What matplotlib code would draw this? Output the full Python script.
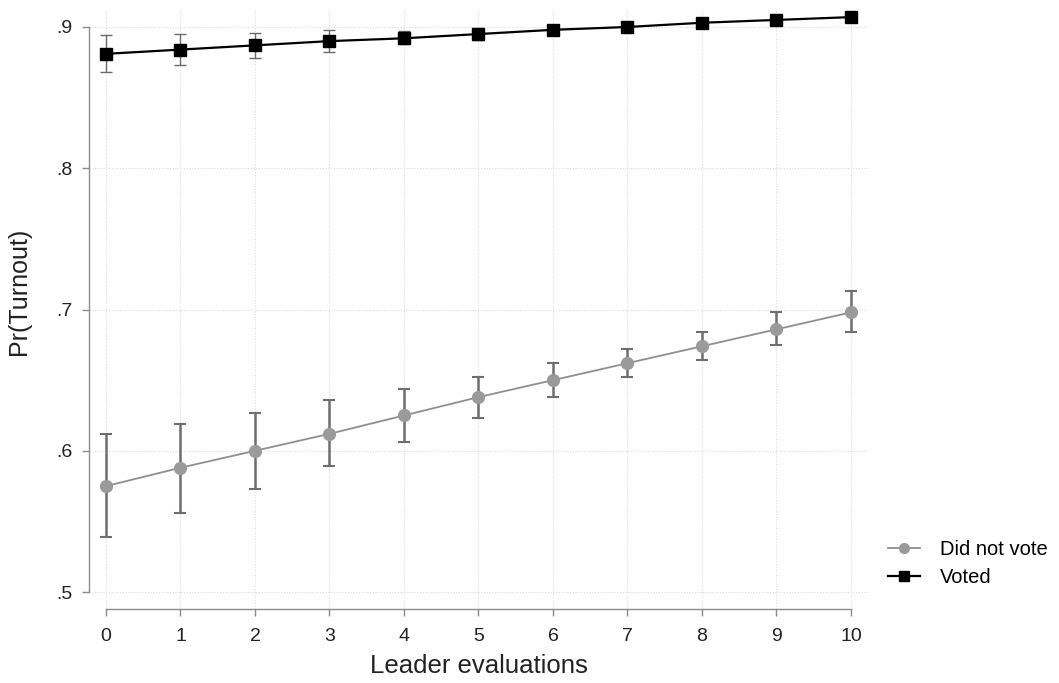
import matplotlib
matplotlib.use("Agg")
import matplotlib.pyplot as plt
from matplotlib.lines import Line2D

plt.rcParams["font.family"] = ["Liberation Sans", "DejaVu Sans"]

# predicted turnout by leader evaluation, with 95% CIs
leader_eval = [0, 1, 2, 3, 4, 5, 6, 7, 8, 9, 10]

novote_mean = [0.575, 0.588, 0.600, 0.612, 0.625, 0.638, 0.650, 0.662, 0.674, 0.686, 0.698]
novote_lo = [0.539, 0.556, 0.573, 0.589, 0.606, 0.623, 0.638, 0.652, 0.664, 0.675, 0.684]
novote_hi = [0.612, 0.619, 0.627, 0.636, 0.644, 0.652, 0.662, 0.672, 0.684, 0.698, 0.713]

voted_mean = [0.881, 0.884, 0.887, 0.890, 0.892, 0.895, 0.898, 0.900, 0.903, 0.905, 0.907]
voted_lo = [0.868, 0.873, 0.878, 0.882, 0.888, 0.891, 0.895, 0.898, 0.900, 0.903, 0.905]
voted_hi = [0.894, 0.895, 0.896, 0.898, 0.897, 0.899, 0.901, 0.903, 0.905, 0.907, 0.909]

yticks = [0.5, 0.6, 0.7, 0.8, 0.9]
ytick_labels = [".5", ".6", ".7", ".8", ".9"]

fig = plt.figure(figsize=(10.59, 6.83), dpi=100)
ax = fig.add_axes([0.084, 0.1083, 0.7356, 0.877])

ax.set_xlim(-0.228, 10.228)
ax.set_ylim(0.488, 0.912)

# stata-ish look: dotted light grid, spines only over the data range
ax.grid(True, color="#dcdcdc", linestyle=(0, (1, 1.5)), linewidth=0.8)
ax.set_axisbelow(True)
for s in ["top", "right"]:
    ax.spines[s].set_visible(False)
ax.spines["left"].set_bounds(0.5, 0.9)
ax.spines["bottom"].set_bounds(0, 10)
ax.spines["left"].set_color("#8c8c8c")
ax.spines["bottom"].set_color("#8c8c8c")
ax.spines["left"].set_linewidth(1.0)
ax.spines["bottom"].set_linewidth(1.0)

nv_err = [[m - l for m, l in zip(novote_mean, novote_lo)],
          [h - m for m, h in zip(novote_mean, novote_hi)]]
v_err = [[m - l for m, l in zip(voted_mean, voted_lo)],
         [h - m for m, h in zip(voted_mean, voted_hi)]]

ax.errorbar(leader_eval, novote_mean, yerr=nv_err, fmt="none",
            ecolor="#6e6e6e", elinewidth=1.8, capsize=4.5, capthick=1.5, zorder=2)
ax.plot(leader_eval, novote_mean, color="#8f8f8f", linewidth=1.3,
        marker="o", markersize=8.5, markerfacecolor="#9a9a9a",
        markeredgecolor="#9a9a9a", zorder=3)

ax.errorbar(leader_eval, voted_mean, yerr=v_err, fmt="none",
            ecolor="#6a6a6a", elinewidth=1.0, capsize=4, capthick=1.0, zorder=2)
ax.plot(leader_eval, voted_mean, color="black", linewidth=1.6,
        marker="s", markersize=8.5, markerfacecolor="black",
        markeredgecolor="black", zorder=4)

ax.set_xticks(leader_eval)
ax.set_xticklabels([str(v) for v in leader_eval])
ax.set_yticks(yticks)
ax.set_yticklabels(ytick_labels)
ax.tick_params(axis="both", colors="#8c8c8c", labelcolor="#222222",
               labelsize=14, length=5, width=1.0)
ax.tick_params(axis="x", pad=9)
ax.tick_params(axis="y", pad=7)

ax.set_xlabel("Leader evaluations", fontsize=18.5, color="#222222", labelpad=6)
ax.set_ylabel("Pr(Turnout)", fontsize=18, color="#222222", labelpad=14)
ax.yaxis.set_label_coords(-0.075, 0.53)

handles = [
    Line2D([], [], color="#8f8f8f", marker="o", markersize=7,
           markerfacecolor="#9a9a9a", markeredgecolor="#9a9a9a", linewidth=1.3),
    Line2D([], [], color="black", marker="s", markersize=7,
           markerfacecolor="black", linewidth=1.6),
]
fig.legend(handles, ["Did not vote", "Voted"], loc="center left",
           bbox_to_anchor=(0.821, 0.175), frameon=False, fontsize=14.5,
           handlelength=1.6, handletextpad=1.0, labelspacing=0.45)

fig.savefig("out.png", dpi=100)
